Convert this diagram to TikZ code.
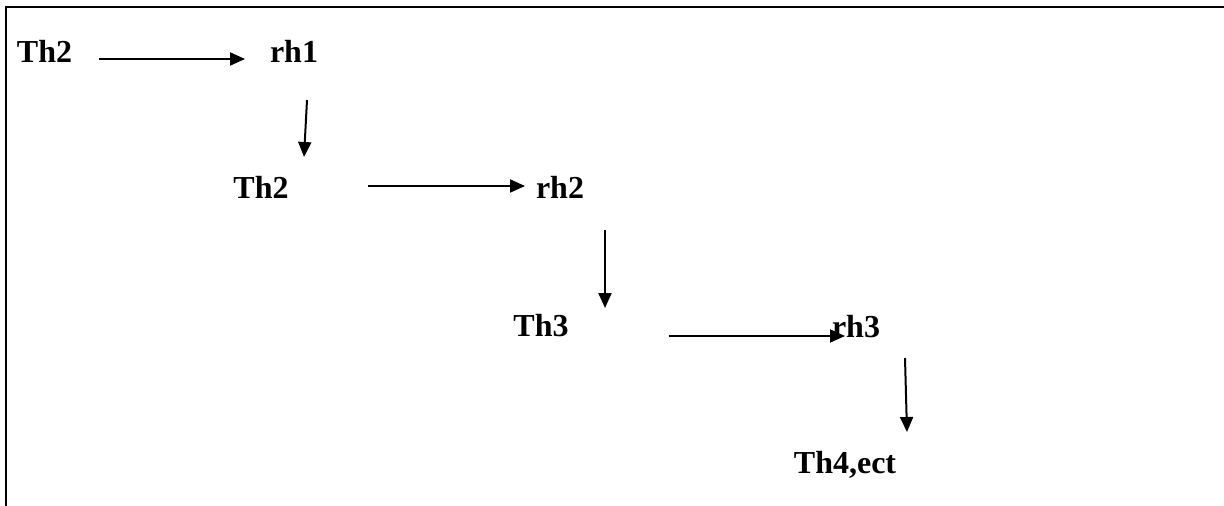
\documentclass[tikz,border=0pt]{standalone}
\usepackage{fontspec}
\setmainfont{Liberation Serif}
\usepackage{tikz}
\usetikzlibrary{arrows.meta}
\usetikzlibrary{positioning}

\begin{document}
\begin{tikzpicture}[x=1pt,y=-1pt]
\tikzstyle{stage} = [inner sep=0, outer sep=0, text height=22pt, text depth=0pt, font=\fontsize{32}{38}\selectfont\bfseries]
\tikzstyle{arrow} = [line width=2pt,-{Triangle[length=15pt,width=13pt]}]
\tikzstyle{frame} = [line width=2pt]

\useasboundingbox (0,0) rectangle (1224,506);

\draw [frame] (6,506) -- (6,7) -- (1224,7);

\node (th1) [stage] at (44.5,51) {Th2};
\node (rh1) [stage] at (294,51) {rh1};
\node (th2) [stage] at (261,187) {Th2};
\node (rh2) [stage] at (560,187) {rh2};
\node (th3) [stage] at (541,325) {Th3};
\node (rh3) [stage] at (856,326) {rh3};
\node (th4) [stage] at (845,462) {Th4,ect};

% across
\draw [arrow, shorten <=27pt, shorten >=25pt] ([yshift=-8pt]th1.east) -- ([yshift=-8pt]rh1.west);
\draw [arrow, shorten <=79pt, shorten >=11pt] ([yshift=1pt]th2.east) -- ([yshift=1pt]rh2.west);
\draw [arrow, shorten <=100pt, shorten >=-13pt] ([yshift=-11pt]th3.east) -- ([yshift=-10pt]rh3.west);

% down
\draw [arrow] ([xshift=13pt,yshift=-38pt]rh1.south) -- ([xshift=43pt,yshift=19pt]th2.north);
\draw [arrow] ([xshift=45pt,yshift=-32pt]rh2.south) -- ([xshift=64pt,yshift=6pt]th3.north);
\draw [arrow] ([xshift=49pt,yshift=-21pt]rh3.south) -- ([xshift=62pt,yshift=19pt]th4.north);

\end{tikzpicture}
\end{document}
